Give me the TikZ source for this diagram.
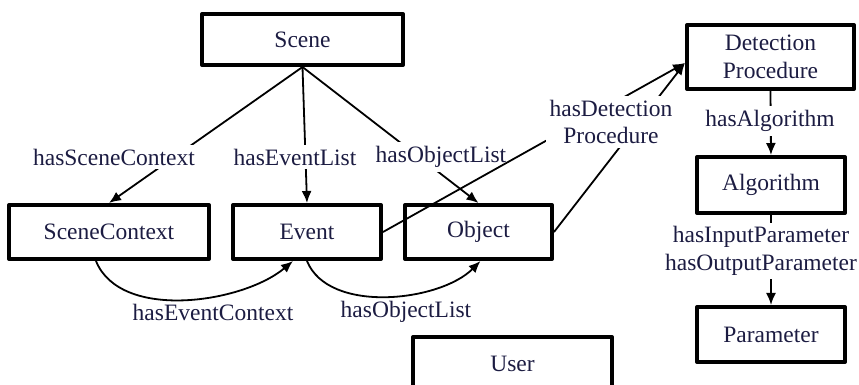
\documentclass[tikz,border=0pt]{standalone}
\usepackage{fontspec}
\setmainfont{Liberation Serif}
\usetikzlibrary{arrows.meta}
\definecolor{txtnavy}{RGB}{28,28,66}

\begin{document}
\begin{tikzpicture}[x=0.5pt,y=-0.5pt,line join=round,>={Latex[length=6pt,width=5pt]},
	font=\fontsize{11.75}{13.8}\selectfont,
	concept/.style={draw,line width=2pt,text=txtnavy,align=center,inner sep=0pt,minimum height=27pt},
	rel/.style={fill=white,text=txtnavy,align=center,inner sep=2pt},
	link/.style={line width=0.9pt}]
	\useasboundingbox (0,0) rectangle (859,385);
	% Klassen
	\node[concept,minimum width=100.5pt,minimum height=25.5pt] (scene) at (302.5,39.5) {Scene};
	\node[concept,minimum width=100pt] (scenectx) at (109,232) {SceneContext};
	\node[concept,minimum width=74pt] (event) at (307,232) {Event};
	\node[concept,minimum width=73.5pt] (object) at (478.5,232) {Object};
	\node[concept,minimum width=99.5pt] (user) at (512.5,364) {User};
	\node[concept,minimum width=83.5pt,minimum height=32pt] (detect) at (770.5,57) {Detection\\Procedure};
	\node[concept,minimum width=74pt,minimum height=28pt] (algo) at (771,185) {Algorithm};
	\node[concept,minimum width=74pt,minimum height=27.5pt] (param) at (771,334.5) {Parameter};
	% Relationen von Scene
	\draw[link,->] (scene.south) -- (scenectx.north);
	\draw[link,->] (scene.south) -- (event.north);
	\draw[link,->] (scene.south) -- (object.north);
	\node[rel] (lsc) at (114,157) {hasSceneContext};
	\node[rel] (lev) at (295,157) {hasEventList};
	\node[rel] (lob) at (441,157) {hasObjectList};
	% Detektion
	\coordinate (dtip) at ([yshift=-3pt]detect.west);
	\draw[link,->] (event.east) -- (dtip);
	\draw[link,->] (object.east) -- (dtip);
	\node[rel] (ldet) at (611,122) {hasDetection\\Procedure};
	\draw[link,->] (detect.south) -- (algo.north);
	\node[rel] (lalg) at (770,121) {hasAlgorithm};
	\draw[link,->] (algo.south) -- (param.north);
	\node[rel] (lpar) at (761,251) {hasInputParameter\\hasOutputParameter};
	% Boegen unten
	\draw[link,->] ([xshift=-6.5pt]scenectx.south) to[out=-68,in=-140,looseness=0.85] ([xshift=-7pt]event.south);
	\draw[link,->] (event.south) to[out=-68,in=-135,looseness=0.85] ([xshift=1pt]object.south);
	\node[text=txtnavy] (lec) at (213,312) {hasEventContext};
	\node[text=txtnavy] (lol) at (406,312) {hasObjectList};
\end{tikzpicture}
\end{document}
